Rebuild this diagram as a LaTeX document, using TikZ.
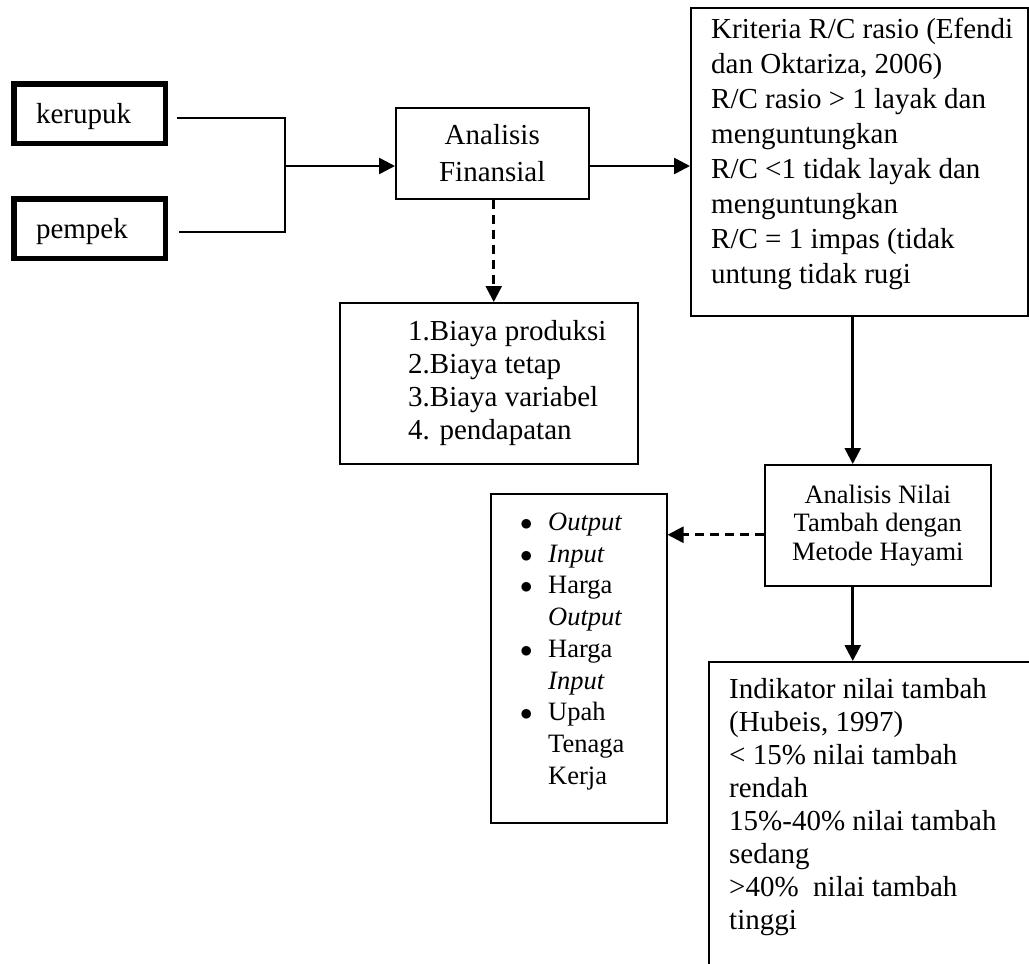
\documentclass[tikz,border=0pt]{standalone}
\usepackage{fontspec}
\setmainfont{Liberation Serif}
\usetikzlibrary{arrows.meta,positioning}

\newcommand{\bitem}{\makebox[28pt][l]{$\bullet$}}
\newcommand{\bcont}{\hspace*{28pt}}

\tikzset{
    box/.style={draw, line width=1.5pt, inner sep=0pt, anchor=north west},
    srcbox/.style={draw, line width=5.5pt, minimum width=151.5pt, minimum height=59.5pt,
        inner xsep=22.25pt, inner ysep=0pt, text width=107pt, align=left,
        text height=20pt, text depth=0pt, font=\fontsize{29}{35}\selectfont},
    txt/.style={inner sep=0pt, align=left},
    link/.style={line width=1.4pt},
    arr/.style={line width=2.6pt, -{Triangle[length=16pt,width=16pt]}},
    darr/.style={arr, dash pattern=on 9pt off 6pt},
}

\begin{document}
\begin{tikzpicture}[x=1pt, y=-1pt]
    \useasboundingbox (0,0) rectangle (1029,964);
    \clip (0,0) rectangle (1029,964);

    % products
    \node[srcbox] (ker) at (89.5,113.5) {kerupuk};
    \node[srcbox] (pem) at (89.5,228.5) {pempek};

    % boxes
    \node[box, minimum width=193pt, minimum height=91pt, align=center,
        font=\fontsize{29}{37.5}\selectfont] (ana) at (395,107) {Analisis\\Finansial};
    \node[box, minimum width=337pt, minimum height=308pt] (krit) at (690,7) {};
    \node[box, minimum width=298pt, minimum height=161pt] (biaya) at (339,302) {};
    \node[box, minimum width=226pt, minimum height=121pt, align=center,
        font=\fontsize{26.5}{28.5}\selectfont] (hay) at (764,464) {Analisis Nilai\\Tambah dengan\\Metode Hayami};
    \node[box, minimum width=176pt, minimum height=329pt] (var) at (490,493) {};
    \node[box, minimum width=400pt, minimum height=400pt] (ind) at (708,661) {};

    % box texts
    \node[txt, below right=11pt and 21pt of krit.north west,
        font=\fontsize{29}{35}\selectfont] (kritT) {Kriteria R/C rasio (Efendi\\
        dan Oktariza, 2006)\\
        R/C rasio > 1 layak dan\\
        menguntungkan\\
        R/C <1 tidak layak dan\\
        menguntungkan\\
        R/C = 1 impas (tidak\\
        untung tidak rugi};
    \node[txt, below right=18pt and 69pt of biaya.north west,
        font=\fontsize{29}{33}\selectfont] (biayaT) {1.Biaya produksi\\
        2.Biaya tetap\\
        3.Biaya variabel\\
        4. pendapatan};
    \node[txt, below right=19.5pt and 30pt of var.north west,
        font=\fontsize{26.5}{31.75}\selectfont] (varT) {\bitem\textit{Output}\\
        \bitem\textit{Input}\\
        \bitem Harga\\
        \bcont\textit{Output}\\
        \bitem Harga\\
        \bcont\textit{Input}\\
        \bitem Upah\\
        \bcont Tenaga\\
        \bcont Kerja};
    \node[txt, below right=17pt and 21pt of ind.north west,
        font=\fontsize{29}{33}\selectfont] (indT) {Indikator nilai tambah\\
        (Hubeis, 1997)\\
        < 15\% nilai tambah\\
        rendah\\
        15\%-40\% nilai tambah\\
        sedang\\
        >40\%\ \ nilai tambah\\
        tinggi};

    % connectors
    \coordinate (mrg) at (285,166);
    \draw[link] ([shift={(9pt,-4.5pt)}]ker.east) -| (mrg) |- ([shift={(11pt,-3.5pt)}]pem.east);
    \draw[arr] (mrg) -- (mrg -| ana.west);
    \draw[arr] (ana.east |- mrg) -- (krit.west |- mrg);
    \draw[darr] ([xshift=1.5pt]ana.south) -- ([xshift=1.5pt]ana.south |- biaya.north);
    \draw[arr] ([xshift=-6.5pt]krit.south) -- ([xshift=-6.5pt]krit.south |- hay.north);
    \draw[darr] ([yshift=-9.5pt]hay.west) -- ([yshift=-9.5pt]hay.west -| var.east);
    \draw[arr] ([xshift=-25pt]hay.south) -- ([xshift=-25pt]hay.south |- ind.north);
\end{tikzpicture}
\end{document}
